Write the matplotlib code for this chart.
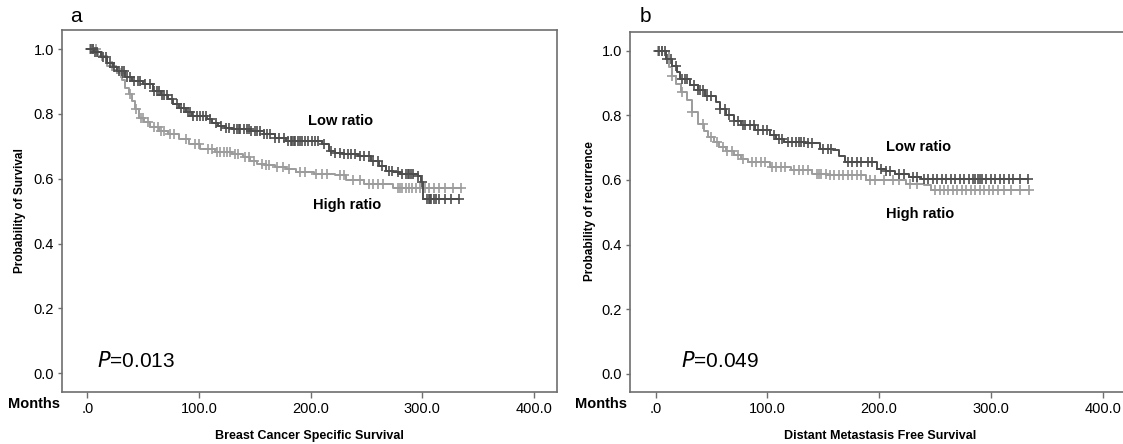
import matplotlib
matplotlib.use("Agg")
import matplotlib.pyplot as plt
import numpy as np

plt.rcParams['font.family'] = ['Liberation Sans', 'DejaVu Sans']

W, H = 1123, 444

# axis ticks
x_ticks = [0, 100, 200, 300, 400]
x_tick_labels = [".0", "100.0", "200.0", "300.0", "400.0"]
y_ticks = [0.0, 0.2, 0.4, 0.6, 0.8, 1.0]
y_tick_labels = ["0.0", "0.2", "0.4", "0.6", "0.8", "1.0"]

# --- panel a : breast cancer specific survival ---
a_low_t = [0, 6, 12, 18, 23, 27, 34, 40, 50, 59, 66, 72, 77, 82, 88, 94, 107,
           112, 117, 124, 130, 146, 158, 168, 178, 210, 216, 222, 229, 242,
           254, 261, 267, 274, 280, 296, 299, 301, 333]
a_low_s = [1.0, 0.99, 0.975, 0.957, 0.945, 0.932, 0.915, 0.901, 0.891, 0.870,
           0.858, 0.845, 0.832, 0.819, 0.806, 0.794, 0.783, 0.773, 0.763,
           0.757, 0.753, 0.748, 0.738, 0.727, 0.717, 0.707, 0.686, 0.681,
           0.676, 0.671, 0.656, 0.640, 0.625, 0.620, 0.615, 0.610, 0.589,
           0.538, 0.538]
a_high_t = [0, 10, 18, 23, 27, 31, 34, 37, 40, 43, 46, 51, 56, 64, 72, 82, 91,
            101, 114, 130, 139, 146, 152, 160, 168, 178, 187, 203, 222, 232,
            248, 274, 335]
a_high_s = [1.0, 0.98, 0.948, 0.937, 0.927, 0.904, 0.881, 0.860, 0.840, 0.815,
            0.789, 0.774, 0.759, 0.748, 0.738, 0.723, 0.708, 0.692, 0.682,
            0.677, 0.667, 0.656, 0.646, 0.641, 0.636, 0.631, 0.621, 0.616,
            0.611, 0.595, 0.585, 0.570, 0.570]
a_low_cens = [3, 5, 7, 9, 14, 17, 20, 24, 28, 31, 33, 36, 38, 42, 45, 47, 52,
              56, 60, 62, 64, 67, 69, 71, 76, 80, 84, 87, 90, 92, 95, 98, 101,
              104, 106, 110, 115, 120, 124, 127, 131, 134, 136, 137, 140, 143,
              145, 147, 150, 152, 155, 158, 161, 164, 168, 172, 176, 180, 182,
              183, 185, 186, 189, 190, 192, 195, 198, 201, 204, 207, 212, 218,
              222, 226, 230, 233, 236, 240, 244, 248, 252, 256, 260, 264, 270,
              273, 278, 282, 285, 287, 288, 290, 292, 296, 300, 304, 306, 307,
              308, 310, 312, 315, 320, 326, 333]
a_high_cens = [2, 5, 8, 13, 22, 30, 38, 44, 48, 50, 54, 60, 63, 66, 69, 74, 78,
               88, 96, 100, 108, 112, 116, 119, 122, 125, 128, 132, 135, 141,
               145, 149, 156, 160, 163, 170, 175, 181, 190, 195, 205, 210, 215,
               226, 230, 238, 244, 252, 256, 260, 265, 278, 280, 282, 285, 288,
               291, 294, 298, 302, 306, 310, 315, 320, 327, 335]

# --- panel b : distant metastasis free survival ---
b_low_t = [0, 9, 15, 19, 22, 31, 38, 44, 54, 58, 63, 70, 76, 89, 102, 108,
           115, 134, 147, 159, 164, 169, 198, 206, 214, 227, 237, 333]
b_low_s = [1.0, 0.974, 0.954, 0.935, 0.913, 0.893, 0.877, 0.861, 0.841, 0.820,
           0.800, 0.784, 0.769, 0.754, 0.738, 0.728, 0.718, 0.713, 0.697, 0.692,
           0.674, 0.656, 0.635, 0.627, 0.620, 0.610, 0.604, 0.604]
b_high_t = [0, 12, 15, 18, 23, 28, 33, 38, 43, 47, 52, 57, 63, 70, 76, 83, 102,
            121, 140, 153, 188, 224, 240, 246, 334]
b_high_s = [1.0, 0.949, 0.923, 0.897, 0.872, 0.846, 0.810, 0.774, 0.753, 0.733,
            0.717, 0.702, 0.690, 0.677, 0.666, 0.656, 0.641, 0.631, 0.620, 0.615,
            0.600, 0.589, 0.584, 0.568, 0.568]
b_low_cens = [3, 6, 8, 10, 14, 18, 24, 26, 28, 34, 38, 40, 42, 46, 50, 58, 62,
              66, 70, 74, 78, 80, 84, 88, 92, 96, 100, 106, 110, 113, 118, 122,
              126, 128, 130, 133, 136, 140, 150, 154, 157, 172, 176, 180, 184,
              190, 194, 202, 206, 210, 218, 222, 230, 234, 240, 244, 248, 252,
              256, 260, 264, 268, 272, 276, 280, 284, 286, 288, 290, 292, 296,
              300, 304, 308, 312, 316, 320, 326, 333]
b_high_cens = [2, 6, 15, 24, 33, 42, 50, 55, 60, 64, 68, 74, 78, 86, 90, 94, 98,
               104, 108, 112, 116, 124, 128, 132, 136, 144, 146, 148, 152, 156,
               160, 164, 168, 172, 176, 180, 184, 192, 196, 204, 212, 218, 228,
               234, 250, 254, 258, 262, 266, 270, 274, 278, 282, 286, 290, 294,
               298, 302, 306, 312, 318, 326, 334]

low_color = "#4d4d4d"
high_color = "#9c9c9c"
frame_color = "#6e6e6e"


def km_at(times, t_list, s_list):
    idx = np.searchsorted(t_list, times, side="right") - 1
    return np.asarray(s_list)[idx]


def draw_panel(ax, low_t, low_s, low_c, high_t, high_s, high_c):
    for t, s, c, col in [(high_t, high_s, high_c, high_color),
                         (low_t, low_s, low_c, low_color)]:
        ax.step(t, s, where="post", color=col, lw=1.4)
        ax.plot(c, km_at(c, t, s), "+", color=col, ms=6.5, mew=1.2)
    ax.set_xlim(-22.9, 420.8)
    ax.set_ylim(-0.057, 1.059)
    ax.set_xticks(x_ticks)
    ax.set_xticklabels(x_tick_labels)
    ax.set_yticks(y_ticks)
    ax.set_yticklabels(y_tick_labels)
    ax.tick_params(axis="y", length=3.2, width=1, color=frame_color,
                   labelsize=10.5, pad=2.5)
    ax.tick_params(axis="x", length=4.5, width=1, color=frame_color,
                   labelsize=10.5, pad=3)
    for sp in ax.spines.values():
        sp.set_color(frame_color)
        sp.set_linewidth(1.2)


fig = plt.figure(figsize=(W / 100, H / 100), dpi=100)

ax1 = fig.add_axes([61.7 / W, 1 - 391.7 / H, 495.6 / W, 361.7 / H])
draw_panel(ax1, a_low_t, a_low_s, a_low_cens, a_high_t, a_high_s, a_high_cens)
ax1.text(198, 0.778, "Low ratio", fontsize=10.5, fontweight="bold", va="center")
ax1.text(202, 0.518, "High ratio", fontsize=10.5, fontweight="bold", va="center")
ax1.text(8.6, 0.038, "$\\it{P}$=0.013", fontsize=15, va="center")

ax2 = fig.add_axes([630 / W, 1 - 392 / H, 496 / W, 359.7 / H])
draw_panel(ax2, b_low_t, b_low_s, b_low_cens, b_high_t, b_high_s, b_high_cens)
ax2.set_ylim(-0.056, 1.057)
ax2.text(206, 0.702, "Low ratio", fontsize=10.5, fontweight="bold", va="center")
ax2.text(206, 0.496, "High ratio", fontsize=10.5, fontweight="bold", va="center")
ax2.text(22.5, 0.039, "$\\it{P}$=0.049", fontsize=15, va="center")

# labels around the axes
fig.text(34 / W, 1 - 404 / H, "Months", fontsize=10.5, fontweight="bold",
         ha="center", va="center")
fig.text(601 / W, 1 - 404 / H, "Months", fontsize=10.5, fontweight="bold",
         ha="center", va="center")
fig.text(309.5 / W, 1 - 436 / H, "Breast Cancer Specific Survival", fontsize=9,
         fontweight="bold", ha="center", va="center")
fig.text(880 / W, 1 - 436 / H, "Distant Metastasis Free Survival", fontsize=9,
         fontweight="bold", ha="center", va="center")
fig.text(19.6 / W, 1 - 211 / H, "Probability of Survival", fontsize=8.5,
         fontweight="bold", rotation=90, ha="center", va="center")
fig.text(590 / W, 1 - 211 / H, "Probability of recurrence", fontsize=8.5,
         fontweight="bold", rotation=90, ha="center", va="center")
fig.text(76 / W, 1 - 16 / H, "a", fontsize=15, ha="center", va="center")
fig.text(645 / W, 1 - 16 / H, "b", fontsize=15, ha="center", va="center")

fig.savefig("out.png", dpi=100)
